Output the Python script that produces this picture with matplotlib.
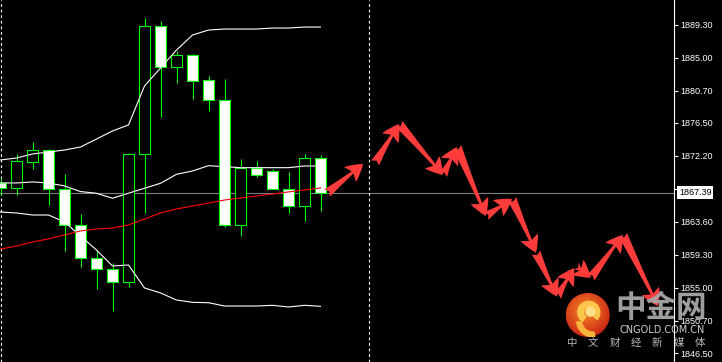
import matplotlib
matplotlib.use("Agg")
import matplotlib.pyplot as plt
import numpy as np
from matplotlib.patches import Circle, Wedge
from matplotlib.transforms import blended_transform_factory

# ---------------- data ----------------
opens  = [1868.67, 1868.02, 1871.40, 1872.96, 1867.89, 1863.20, 1858.90, 1857.47, 1855.78, 1872.44,
          1889.10, 1883.77, 1885.33, 1882.08, 1879.47, 1863.20, 1870.62, 1870.23, 1867.89, 1865.67, 1871.92]
highs  = [1869.32, 1872.44, 1874.00, 1873.09, 1869.84, 1864.63, 1859.94, 1858.25, 1872.57, 1890.15,
          1889.76, 1885.85, 1885.46, 1882.60, 1882.21, 1871.79, 1871.53, 1870.49, 1870.10, 1872.44, 1872.31]
lows   = [1867.10, 1867.10, 1870.49, 1865.80, 1859.81, 1857.73, 1854.87, 1852.00, 1855.13, 1864.76,
          1877.26, 1881.68, 1879.60, 1878.04, 1862.94, 1861.77, 1869.45, 1867.89, 1864.76, 1863.72, 1865.02]
closes = [1868.02, 1871.53, 1872.96, 1867.89, 1863.20, 1858.90, 1857.47, 1855.78, 1872.44, 1889.10,
          1883.77, 1885.33, 1881.95, 1879.47, 1863.20, 1870.62, 1869.71, 1867.89, 1865.67, 1871.92, 1867.39]

bb_upper = [1871.66, 1871.92, 1872.44, 1872.70, 1872.96, 1873.35, 1874.39, 1875.44, 1876.22, 1881.29,
            1883.64, 1885.98, 1887.93, 1888.58, 1888.71, 1888.71, 1888.71, 1888.84, 1888.84, 1888.97, 1888.97]
bb_mid   = [1868.67, 1868.67, 1868.80, 1868.67, 1868.28, 1867.55, 1867.33, 1866.68, 1867.33, 1867.98,
            1868.63, 1869.80, 1870.23, 1870.92, 1870.79, 1870.66, 1870.66, 1870.66, 1870.66, 1870.88, 1870.88]
bb_lower = [1864.89, 1864.76, 1864.50, 1864.50, 1863.59, 1861.77, 1859.94, 1857.86, 1857.99, 1855.00,
            1854.35, 1853.43, 1853.13, 1853.08, 1852.65, 1852.65, 1852.65, 1852.74, 1852.52, 1852.74, 1852.61]
ma_red   = [1860.07, 1860.46, 1860.99, 1861.38, 1861.90, 1862.42, 1862.68, 1862.81, 1863.20, 1863.98,
            1864.76, 1865.28, 1865.67, 1866.06, 1866.45, 1866.71, 1866.97, 1867.23, 1867.50, 1867.76, 1868.02]

last_price = 1867.39
separator_bars = [0, 23]

# forecast arrows (bar index, price)
arrow_tail_x = [20.41, 23.41, 24.91, 27.66, 28.53, 30.34, 31.97, 33.47, 34.78, 35.97, 36.90, 38.90]
arrow_tail_y = [1867.36, 1871.27, 1876.35, 1869.71, 1873.35, 1864.37, 1866.58, 1859.60, 1853.89, 1857.86, 1856.34, 1861.90]
arrow_head_x = [22.66, 24.91, 27.66, 28.53, 30.34, 31.97, 33.47, 34.78, 35.84, 36.90, 38.90, 41.09]
arrow_head_y = [1871.14, 1876.35, 1869.71, 1873.35, 1864.37, 1866.58, 1859.60, 1853.89, 1857.59, 1856.34, 1861.90, 1852.65]

price_ticks = [1889.30, 1885.00, 1880.70, 1876.50, 1872.20, 1867.90, 1863.60, 1859.30, 1855.00, 1850.70, 1846.50]

# ---------------- figure ----------------
W, H = 722, 362
fig = plt.figure(figsize=(W / 100, H / 100), dpi=100, facecolor="black")
ax = fig.add_axes([0, 0, 674 / W, 1], facecolor="black")

n = len(opens)
x = np.arange(n)
green = "#00ff00"

# wicks
ax.vlines(x, lows, highs, color=green, lw=0.8, zorder=2)
# bodies
o = np.array(opens); c = np.array(closes)
face = ["black" if cc > oo else "white" for oo, cc in zip(o, c)]
ax.bar(x, c - o, bottom=o, width=0.64, color=face, edgecolor=green, linewidth=0.8, zorder=3)

# indicators
ax.plot(x, bb_upper, color="white", lw=0.8, zorder=4)
ax.plot(x, bb_mid, color="white", lw=0.8, zorder=4)
ax.plot(x, bb_lower, color="white", lw=0.8, zorder=4)
ax.plot(x, ma_red, color="#ff0000", lw=0.8, zorder=4)

# price line
ax.axhline(last_price, color="#808080", lw=0.8, zorder=1)

# separators
for b in separator_bars:
    ax.axvline(b, color="white", lw=0.8, dashes=(2.5, 2.5), zorder=1)

# arrows
for tx, ty, hx, hy in zip(arrow_tail_x, arrow_tail_y, arrow_head_x, arrow_head_y):
    ax.annotate("", xy=(hx, hy), xytext=(tx, ty),
                arrowprops=dict(arrowstyle="fancy,head_length=0.55,head_width=0.62,tail_width=0.3",
                                color="#ff3c3c", shrinkA=0, shrinkB=0, mutation_scale=22, lw=0),
                zorder=5)

# axes limits (bar pitch 16 px, centre of bar 0 at pixel 0.5)
ax.set_xlim(-0.5 / 16, 673.5 / 16)
ax.set_ylim(1845.36, 1892.49)

ax.set_xticks([])
ax.yaxis.tick_right()
ax.set_yticks(price_ticks)
ax.set_yticklabels([f"{p:.2f}" for p in price_ticks], fontfamily="Liberation Sans")
ax.tick_params(axis="y", colors="white", length=3, width=0.8, pad=1.5, labelsize=6.5)
for s in ["left", "top", "bottom"]:
    ax.spines[s].set_visible(False)
ax.spines["right"].set_color("white")
ax.spines["right"].set_linewidth(0.8)

# current price box
tr = blended_transform_factory(ax.transAxes, ax.transData)
ax.text(1 + 5 / 674, last_price, f"{last_price:.2f}", transform=tr, ha="left", va="center",
        fontsize=6.5, fontfamily="Liberation Sans", color="black", clip_on=False, zorder=10,
        bbox=dict(boxstyle="square,pad=0.2", fc="white", ec="none"))

# ---------------- watermark ----------------
cx, cy, r = 587.7, 315, 22
lax = fig.add_axes([(cx - r) / W, (H - cy - r) / H, 2 * r / W, 2 * r / H])
lax.set_xlim(-1, 1); lax.set_ylim(-1, 1); lax.axis("off")
yy, xx = np.mgrid[-1:1:200j, -1:1:200j]
rr = np.sqrt((xx + 0.1) ** 2 + (yy - 0.2) ** 2)
c_in = np.array([0.97, 0.55, 0.15]); c_out = np.array([0.80, 0.15, 0.08])
t = np.clip(rr / 1.2, 0, 1)[..., None]
img = c_in * (1 - t) + c_out * t
im = lax.imshow(img, extent=(-1, 1, -1, 1), origin="lower", zorder=1)
im.set_clip_path(Circle((0, 0), 1, transform=lax.transData))
lax.add_patch(Wedge((0.05, 0.12), 0.5, -40, 235, width=0.26, color="#fcc64a", zorder=2))
lax.add_patch(Circle((0.12, 0.15), 0.2, color="#fde08a", zorder=3))
lax.add_patch(Wedge((0.25, -0.25), 0.75, 185, 275, width=0.22, color="#f7b43a", zorder=2))

fig.text(661 / W, 1 - 308 / H, "中金网", fontfamily=["Noto Sans CJK SC"], fontweight="bold",
         fontsize=22, color="#a8a8a8", ha="center", va="center", alpha=0.95)
fig.text(662 / W, 1 - 330 / H, "CNGOLD.COM.CN", fontfamily="DejaVu Sans", fontsize=7,
         color="#d0d0d0", ha="center", va="center")
for i, ch in enumerate("中文财经新媒体"):
    fig.text((572 + 21.3 * i) / W, 1 - 343 / H, ch, fontfamily=["Noto Sans CJK SC"], fontsize=7.5,
             color="#b8b8b8", ha="center", va="center")

fig.savefig("out.png", dpi=100, facecolor="black")
